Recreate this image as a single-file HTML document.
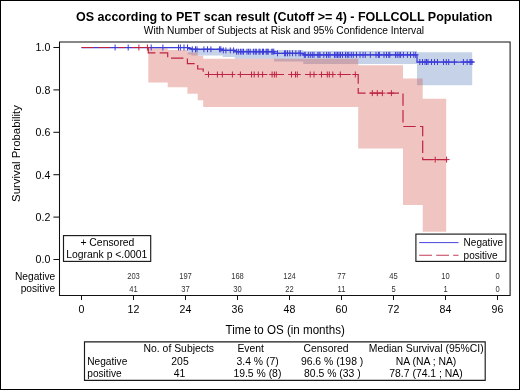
<!DOCTYPE html>
<html><head><meta charset="utf-8"><style>
html,body{margin:0;padding:0;background:#fff;}
svg{display:block;will-change:transform;}
text{font-family:"Liberation Sans", sans-serif;}
</style></head><body>
<svg width="520" height="390" viewBox="0 0 520 390">
<rect x="0" y="0" width="520" height="390" fill="#fff"/>
<rect x="0.5" y="0.5" width="519" height="389" fill="none" stroke="#000" stroke-width="1"/>
<text x="284.2" y="20.8" font-family='"Liberation Sans", sans-serif' font-size="12.5" font-weight="bold" text-anchor="middle" fill="#000">OS according to PET scan result (Cutoff &gt;= 4) - FOLLCOLL Population</text>
<text x="284.0" y="33.5" font-family='"Liberation Sans", sans-serif' font-size="10.2" text-anchor="middle" fill="#000">With Number of Subjects at Risk and 95% Confidence Interval</text>
<path d="M187.6 47.7 L191.4 47.7 L191.4 48.0 L222.7 48.0 L222.7 48.6 L234.8 48.6 L234.8 49.2 L274.0 49.2 L274.0 50.0 L303.3 50.0 L303.3 51.0 L417.0 51.0 L417.0 52.2 L472.2 52.2 L472.2 85.3 L417.0 85.3 L417.0 64.1 L303.3 64.1 L303.3 61.6 L274.0 61.6 L274.0 58.8 L234.8 58.8 L234.8 56.9 L222.7 56.9 L222.7 55.4 L191.4 55.4 L191.4 54.6 L187.6 54.6 Z" fill="#c6d2e8"/>
<path d="M148.3 48.3 L167.7 48.3 L167.7 50.1 L187.4 50.1 L187.4 52.6 L197.7 52.6 L197.7 55.7 L203.2 55.7 L203.2 58.8 L358.2 58.8 L358.2 65.3 L403.0 65.3 L403.0 78.6 L422.7 78.6 L422.7 98.8 L446.2 98.8 L446.2 231.8 L422.7 231.8 L422.7 204.9 L403.0 204.9 L403.0 148.5 L358.2 148.5 L358.2 106.9 L203.2 106.9 L203.2 100.2 L197.7 100.2 L197.7 93.7 L187.4 93.7 L187.4 87.2 L167.7 87.2 L167.7 82.5 L148.3 82.5 Z" fill="#d0473a" fill-opacity="0.32"/>
<path d="M81.5 47.5 H187.6 V48.3 H191.4 V49.3 H222.7 V50.4 H234.8 V51.7 H274.0 V53.3 H303.3 V54.9 H417.0 V62.0 H472.6" fill="none" stroke="#3c3cd8" stroke-width="1.25"/>
<path d="M81.5 47.5 H148.3 V52.8 H167.7 V58.2 H187.4 V63.6 H197.7 V69.0 H203.2 V74.5 H358.2 V93.1 H403.0 V126.5 H422.7 V159.6 H446.8" fill="none" stroke="#be2442" stroke-width="1.2" stroke-dasharray="12.4 4.3"/>
<path d="M112.1 47.5 h6.0 M115.1 44.5 v6.0 M125.2 47.5 h6.0 M128.2 44.5 v6.0 M148.2 47.5 h6.0 M151.2 44.5 v6.0 M159.9 47.5 h6.0 M162.9 44.5 v6.0 M175.5 47.5 h6.0 M178.5 44.5 v6.0 M177.4 47.5 h6.0 M180.4 44.5 v6.0 M181.0 47.5 h6.0 M184.0 44.5 v6.0 M184.5 47.5 h6.0 M187.5 44.5 v6.0 M189.3 49.3 h6.0 M192.3 46.3 v6.0 M192.5 49.3 h6.0 M195.5 46.3 v6.0 M194.0 49.3 h6.0 M197.0 46.3 v6.0 M200.9 49.3 h6.0 M203.9 46.3 v6.0 M204.5 49.3 h6.0 M207.5 46.3 v6.0 M207.9 49.3 h6.0 M210.9 46.3 v6.0 M216.6 49.3 h6.0 M219.6 46.3 v6.0 M217.8 49.3 h6.0 M220.8 46.3 v6.0 M220.3 50.4 h6.0 M223.3 47.4 v6.0 M222.9 50.4 h6.0 M225.9 47.4 v6.0 M227.3 50.4 h6.0 M230.3 47.4 v6.0 M230.6 50.4 h6.0 M233.6 47.4 v6.0 M233.6 51.7 h6.0 M236.6 48.7 v6.0 M235.3 51.7 h6.0 M238.3 48.7 v6.0 M237.4 51.7 h6.0 M240.4 48.7 v6.0 M239.0 51.7 h6.0 M242.0 48.7 v6.0 M240.5 51.7 h6.0 M243.5 48.7 v6.0 M244.0 51.7 h6.0 M247.0 48.7 v6.0 M245.6 51.7 h6.0 M248.6 48.7 v6.0 M247.2 51.7 h6.0 M250.2 48.7 v6.0 M250.4 51.7 h6.0 M253.4 48.7 v6.0 M252.2 51.7 h6.0 M255.2 48.7 v6.0 M253.3 51.7 h6.0 M256.3 48.7 v6.0 M256.0 51.7 h6.0 M259.0 48.7 v6.0 M257.0 51.7 h6.0 M260.0 48.7 v6.0 M259.5 51.7 h6.0 M262.5 48.7 v6.0 M260.5 51.7 h6.0 M263.5 48.7 v6.0 M263.2 51.7 h6.0 M266.2 48.7 v6.0 M264.2 51.7 h6.0 M267.2 48.7 v6.0 M265.2 51.7 h6.0 M268.2 48.7 v6.0 M268.8 51.7 h6.0 M271.8 48.7 v6.0 M269.8 51.7 h6.0 M272.8 48.7 v6.0 M270.8 51.7 h6.0 M273.8 48.7 v6.0 M274.5 53.3 h6.0 M277.5 50.3 v6.0 M281.6 53.3 h6.0 M284.6 50.3 v6.0 M282.6 53.3 h6.0 M285.6 50.3 v6.0 M284.5 53.3 h6.0 M287.5 50.3 v6.0 M286.8 53.3 h6.0 M289.8 50.3 v6.0 M289.5 53.3 h6.0 M292.5 50.3 v6.0 M292.8 53.3 h6.0 M295.8 50.3 v6.0 M296.0 53.3 h6.0 M299.0 50.3 v6.0 M297.4 53.3 h6.0 M300.4 50.3 v6.0 M301.3 54.9 h6.0 M304.3 51.9 v6.0 M302.3 54.9 h6.0 M305.3 51.9 v6.0 M305.3 54.9 h6.0 M308.3 51.9 v6.0 M307.3 54.9 h6.0 M310.3 51.9 v6.0 M309.3 54.9 h6.0 M312.3 51.9 v6.0 M311.0 54.9 h6.0 M314.0 51.9 v6.0 M314.8 54.9 h6.0 M317.8 51.9 v6.0 M316.0 54.9 h6.0 M319.0 51.9 v6.0 M317.0 54.9 h6.0 M320.0 51.9 v6.0 M320.8 54.9 h6.0 M323.8 51.9 v6.0 M323.5 54.9 h6.0 M326.5 51.9 v6.0 M325.3 54.9 h6.0 M328.3 51.9 v6.0 M327.0 54.9 h6.0 M330.0 51.9 v6.0 M331.5 54.9 h6.0 M334.5 51.9 v6.0 M333.0 54.9 h6.0 M336.0 51.9 v6.0 M334.5 54.9 h6.0 M337.5 51.9 v6.0 M336.0 54.9 h6.0 M339.0 51.9 v6.0 M337.5 54.9 h6.0 M340.5 51.9 v6.0 M339.5 54.9 h6.0 M342.5 51.9 v6.0 M342.5 54.9 h6.0 M345.5 51.9 v6.0 M344.3 54.9 h6.0 M347.3 51.9 v6.0 M345.8 54.9 h6.0 M348.8 51.9 v6.0 M348.3 54.9 h6.0 M351.3 51.9 v6.0 M350.3 54.9 h6.0 M353.3 51.9 v6.0 M353.5 54.9 h6.0 M356.5 51.9 v6.0 M357.0 54.9 h6.0 M360.0 51.9 v6.0 M360.0 54.9 h6.0 M363.0 51.9 v6.0 M362.3 54.9 h6.0 M365.3 51.9 v6.0 M367.3 54.9 h6.0 M370.3 51.9 v6.0 M373.0 54.9 h6.0 M376.0 51.9 v6.0 M375.4 54.9 h6.0 M378.4 51.9 v6.0 M376.4 54.9 h6.0 M379.4 51.9 v6.0 M381.0 54.9 h6.0 M384.0 51.9 v6.0 M383.5 54.9 h6.0 M386.5 51.9 v6.0 M385.8 54.9 h6.0 M388.8 51.9 v6.0 M386.8 54.9 h6.0 M389.8 51.9 v6.0 M392.5 54.9 h6.0 M395.5 51.9 v6.0 M394.2 54.9 h6.0 M397.2 51.9 v6.0 M396.1 54.9 h6.0 M399.1 51.9 v6.0 M397.6 54.9 h6.0 M400.6 51.9 v6.0 M400.4 54.9 h6.0 M403.4 51.9 v6.0 M404.4 54.9 h6.0 M407.4 51.9 v6.0 M407.5 54.9 h6.0 M410.5 51.9 v6.0 M410.8 54.9 h6.0 M413.8 51.9 v6.0 M412.7 54.9 h6.0 M415.7 51.9 v6.0 M416.8 62.0 h6.0 M419.8 59.0 v6.0 M419.5 62.0 h6.0 M422.5 59.0 v6.0 M422.0 62.0 h6.0 M425.0 59.0 v6.0 M423.5 62.0 h6.0 M426.5 59.0 v6.0 M425.0 62.0 h6.0 M428.0 59.0 v6.0 M428.5 62.0 h6.0 M431.5 59.0 v6.0 M431.5 62.0 h6.0 M434.5 59.0 v6.0 M434.5 62.0 h6.0 M437.5 59.0 v6.0 M440.5 62.0 h6.0 M443.5 59.0 v6.0 M443.3 62.0 h6.0 M446.3 59.0 v6.0 M445.7 62.0 h6.0 M448.7 59.0 v6.0 M451.4 62.0 h6.0 M454.4 59.0 v6.0 M460.4 62.0 h6.0 M463.4 59.0 v6.0 M464.1 62.0 h6.0 M467.1 59.0 v6.0 M467.0 62.0 h6.0 M470.0 59.0 v6.0 M468.0 62.0 h6.0 M471.0 59.0 v6.0 M469.0 62.0 h6.0 M472.0 59.0 v6.0" fill="none" stroke="#3c3cd8" stroke-width="1"/>
<path d="M135.9 47.5 h6.0 M138.9 44.5 v6.0 M144.4 47.5 h6.0 M147.4 44.5 v6.0 M205.5 74.5 h6.0 M208.5 71.5 v6.0 M214.4 74.5 h6.0 M217.4 71.5 v6.0 M219.3 74.5 h6.0 M222.3 71.5 v6.0 M229.4 74.5 h6.0 M232.4 71.5 v6.0 M237.4 74.5 h6.0 M240.4 71.5 v6.0 M248.5 74.5 h6.0 M251.5 71.5 v6.0 M251.2 74.5 h6.0 M254.2 71.5 v6.0 M255.3 74.5 h6.0 M258.3 71.5 v6.0 M259.6 74.5 h6.0 M262.6 71.5 v6.0 M269.1 74.5 h6.0 M272.1 71.5 v6.0 M271.4 74.5 h6.0 M274.4 71.5 v6.0 M273.3 74.5 h6.0 M276.3 71.5 v6.0 M288.5 74.5 h6.0 M291.5 71.5 v6.0 M292.5 74.5 h6.0 M295.5 71.5 v6.0 M294.3 74.5 h6.0 M297.3 71.5 v6.0 M307.2 74.5 h6.0 M310.2 71.5 v6.0 M311.0 74.5 h6.0 M314.0 71.5 v6.0 M318.5 74.5 h6.0 M321.5 71.5 v6.0 M324.3 74.5 h6.0 M327.3 71.5 v6.0 M326.3 74.5 h6.0 M329.3 71.5 v6.0 M329.8 74.5 h6.0 M332.8 71.5 v6.0 M337.3 74.5 h6.0 M340.3 71.5 v6.0 M352.3 74.5 h6.0 M355.3 71.5 v6.0 M369.3 93.1 h6.0 M372.3 90.1 v6.0 M374.3 93.1 h6.0 M377.3 90.1 v6.0 M379.4 93.1 h6.0 M382.4 90.1 v6.0 M388.4 93.1 h6.0 M391.4 90.1 v6.0 M432.2 159.6 h6.0 M435.2 156.6 v6.0 M443.6 159.6 h6.0 M446.6 156.6 v6.0" fill="none" stroke="#be2442" stroke-width="1"/>
<path d="M59.5 41.9 H510.1 V295.5 H59.5 Z" fill="none" stroke="#111" stroke-width="1.05"/>
<line x1="53.4" y1="47.50" x2="59" y2="47.50" stroke="#111" stroke-width="1.05"/>
<text x="50.3" y="51.30" font-family='"Liberation Sans", sans-serif' font-size="10.6" text-anchor="end" fill="#000">1.0</text>
<line x1="53.4" y1="89.90" x2="59" y2="89.90" stroke="#111" stroke-width="1.05"/>
<text x="50.3" y="93.70" font-family='"Liberation Sans", sans-serif' font-size="10.6" text-anchor="end" fill="#000">0.8</text>
<line x1="53.4" y1="132.30" x2="59" y2="132.30" stroke="#111" stroke-width="1.05"/>
<text x="50.3" y="136.10" font-family='"Liberation Sans", sans-serif' font-size="10.6" text-anchor="end" fill="#000">0.6</text>
<line x1="53.4" y1="174.70" x2="59" y2="174.70" stroke="#111" stroke-width="1.05"/>
<text x="50.3" y="178.50" font-family='"Liberation Sans", sans-serif' font-size="10.6" text-anchor="end" fill="#000">0.4</text>
<line x1="53.4" y1="217.10" x2="59" y2="217.10" stroke="#111" stroke-width="1.05"/>
<text x="50.3" y="220.90" font-family='"Liberation Sans", sans-serif' font-size="10.6" text-anchor="end" fill="#000">0.2</text>
<line x1="53.4" y1="259.50" x2="59" y2="259.50" stroke="#111" stroke-width="1.05"/>
<text x="50.3" y="263.30" font-family='"Liberation Sans", sans-serif' font-size="10.6" text-anchor="end" fill="#000">0.0</text>
<text transform="translate(20.2 153.5) rotate(-90)" font-family='"Liberation Sans", sans-serif' font-size="11.4" text-anchor="middle" fill="#000">Survival Probability</text>
<line x1="81.5" y1="296" x2="81.5" y2="300" stroke="#111" stroke-width="1"/>
<text x="81.5" y="313.2" font-family='"Liberation Sans", sans-serif' font-size="10.6" text-anchor="middle" fill="#000">0</text>
<line x1="133.5" y1="296" x2="133.5" y2="300" stroke="#111" stroke-width="1"/>
<text x="133.5" y="313.2" font-family='"Liberation Sans", sans-serif' font-size="10.6" text-anchor="middle" fill="#000">12</text>
<line x1="185.5" y1="296" x2="185.5" y2="300" stroke="#111" stroke-width="1"/>
<text x="185.5" y="313.2" font-family='"Liberation Sans", sans-serif' font-size="10.6" text-anchor="middle" fill="#000">24</text>
<line x1="237.5" y1="296" x2="237.5" y2="300" stroke="#111" stroke-width="1"/>
<text x="237.5" y="313.2" font-family='"Liberation Sans", sans-serif' font-size="10.6" text-anchor="middle" fill="#000">36</text>
<line x1="289.5" y1="296" x2="289.5" y2="300" stroke="#111" stroke-width="1"/>
<text x="289.5" y="313.2" font-family='"Liberation Sans", sans-serif' font-size="10.6" text-anchor="middle" fill="#000">48</text>
<line x1="341.5" y1="296" x2="341.5" y2="300" stroke="#111" stroke-width="1"/>
<text x="341.5" y="313.2" font-family='"Liberation Sans", sans-serif' font-size="10.6" text-anchor="middle" fill="#000">60</text>
<line x1="393.5" y1="296" x2="393.5" y2="300" stroke="#111" stroke-width="1"/>
<text x="393.5" y="313.2" font-family='"Liberation Sans", sans-serif' font-size="10.6" text-anchor="middle" fill="#000">72</text>
<line x1="445.5" y1="296" x2="445.5" y2="300" stroke="#111" stroke-width="1"/>
<text x="445.5" y="313.2" font-family='"Liberation Sans", sans-serif' font-size="10.6" text-anchor="middle" fill="#000">84</text>
<line x1="497.5" y1="296" x2="497.5" y2="300" stroke="#111" stroke-width="1"/>
<text x="497.5" y="313.2" font-family='"Liberation Sans", sans-serif' font-size="10.6" text-anchor="middle" fill="#000">96</text>
<text transform="translate(285.2 333.7) scale(1 1.1)" x="0" y="0" font-family='"Liberation Sans", sans-serif' font-size="11.6" text-anchor="middle" fill="#000">Time to OS (in months)</text>
<text x="55.2" y="280" font-family='"Liberation Sans", sans-serif' font-size="10.2" text-anchor="end" fill="#000">Negative</text>
<text x="55.2" y="291.5" font-family='"Liberation Sans", sans-serif' font-size="10.2" text-anchor="end" fill="#000">positive</text>
<text transform="translate(133.5 279.1) scale(1 1.2)" font-family='"Liberation Sans", sans-serif' font-size="7.6" text-anchor="middle" fill="#333">203</text>
<text transform="translate(133.5 291.5) scale(1 1.2)" font-family='"Liberation Sans", sans-serif' font-size="7.6" text-anchor="middle" fill="#333">41</text>
<text transform="translate(185.5 279.1) scale(1 1.2)" font-family='"Liberation Sans", sans-serif' font-size="7.6" text-anchor="middle" fill="#333">197</text>
<text transform="translate(185.5 291.5) scale(1 1.2)" font-family='"Liberation Sans", sans-serif' font-size="7.6" text-anchor="middle" fill="#333">37</text>
<text transform="translate(237.5 279.1) scale(1 1.2)" font-family='"Liberation Sans", sans-serif' font-size="7.6" text-anchor="middle" fill="#333">168</text>
<text transform="translate(237.5 291.5) scale(1 1.2)" font-family='"Liberation Sans", sans-serif' font-size="7.6" text-anchor="middle" fill="#333">30</text>
<text transform="translate(289.5 279.1) scale(1 1.2)" font-family='"Liberation Sans", sans-serif' font-size="7.6" text-anchor="middle" fill="#333">124</text>
<text transform="translate(289.5 291.5) scale(1 1.2)" font-family='"Liberation Sans", sans-serif' font-size="7.6" text-anchor="middle" fill="#333">22</text>
<text transform="translate(341.5 279.1) scale(1 1.2)" font-family='"Liberation Sans", sans-serif' font-size="7.6" text-anchor="middle" fill="#333">77</text>
<text transform="translate(341.5 291.5) scale(1 1.2)" font-family='"Liberation Sans", sans-serif' font-size="7.6" text-anchor="middle" fill="#333">11</text>
<text transform="translate(393.5 279.1) scale(1 1.2)" font-family='"Liberation Sans", sans-serif' font-size="7.6" text-anchor="middle" fill="#333">45</text>
<text transform="translate(393.5 291.5) scale(1 1.2)" font-family='"Liberation Sans", sans-serif' font-size="7.6" text-anchor="middle" fill="#333">5</text>
<text transform="translate(445.5 279.1) scale(1 1.2)" font-family='"Liberation Sans", sans-serif' font-size="7.6" text-anchor="middle" fill="#333">10</text>
<text transform="translate(445.5 291.5) scale(1 1.2)" font-family='"Liberation Sans", sans-serif' font-size="7.6" text-anchor="middle" fill="#333">1</text>
<text transform="translate(497.5 279.1) scale(1 1.2)" font-family='"Liberation Sans", sans-serif' font-size="7.6" text-anchor="middle" fill="#333">0</text>
<text transform="translate(497.5 291.5) scale(1 1.2)" font-family='"Liberation Sans", sans-serif' font-size="7.6" text-anchor="middle" fill="#333">0</text>
<rect x="63.5" y="235.6" width="87.2" height="25.8" fill="#fff" stroke="#1a1a1a" stroke-width="1.15"/>
<text x="107.4" y="246.2" font-family='"Liberation Sans", sans-serif' font-size="10.4" text-anchor="middle" fill="#000">+ Censored</text>
<text x="106.8" y="258.2" font-family='"Liberation Sans", sans-serif' font-size="10.4" text-anchor="middle" fill="#000">Logrank p &lt;.0001</text>
<rect x="415.9" y="234.1" width="90" height="27.3" fill="#fff" stroke="#1a1a1a" stroke-width="1.15"/>
<line x1="419.2" y1="242.6" x2="458.5" y2="242.6" stroke="#4646dc" stroke-width="1.0"/>
<line x1="419.2" y1="255.3" x2="458.5" y2="255.3" stroke="#c43c58" stroke-width="1.1" stroke-dasharray="12.8 4.2"/>
<text x="463.6" y="246.3" font-family='"Liberation Sans", sans-serif' font-size="10.0" fill="#000">Negative</text>
<text x="463.6" y="258.6" font-family='"Liberation Sans", sans-serif' font-size="10.0" fill="#000">positive</text>
<path d="M84.5 341.9 H485.2 V380.4 H84.5 Z" fill="none" stroke="#1a1a1a" stroke-width="1.15"/>
<text x="178.8" y="352.2" font-family='"Liberation Sans", sans-serif' font-size="10.4" text-anchor="middle" fill="#000">No. of Subjects</text>
<text x="250.7" y="352.2" font-family='"Liberation Sans", sans-serif' font-size="10.4" text-anchor="middle" fill="#000">Event</text>
<text x="326.0" y="352.2" font-family='"Liberation Sans", sans-serif' font-size="10.4" text-anchor="middle" fill="#000">Censored</text>
<text x="426.2" y="352.2" font-family='"Liberation Sans", sans-serif' font-size="10.4" text-anchor="middle" fill="#000">Median Survival (95%CI)</text>
<text x="87.3" y="364.7" font-family='"Liberation Sans", sans-serif' font-size="10.15" fill="#000">Negative</text>
<text x="180.0" y="364.7" font-family='"Liberation Sans", sans-serif' font-size="10.4" text-anchor="middle" fill="#000">205</text>
<text x="257.6" y="364.7" font-family='"Liberation Sans", sans-serif' font-size="10.4" text-anchor="middle" fill="#000">3.4 % (7)</text>
<text x="332.1" y="364.7" font-family='"Liberation Sans", sans-serif' font-size="10.4" text-anchor="middle" fill="#000">96.6 % (198 )</text>
<text x="426.0" y="364.7" font-family='"Liberation Sans", sans-serif' font-size="10.4" text-anchor="middle" fill="#000">NA (NA ; NA)</text>
<text x="87.3" y="377.1" font-family='"Liberation Sans", sans-serif' font-size="10.15" fill="#000">positive</text>
<text x="179.5" y="377.1" font-family='"Liberation Sans", sans-serif' font-size="10.4" text-anchor="middle" fill="#000">41</text>
<text x="257.4" y="377.1" font-family='"Liberation Sans", sans-serif' font-size="10.4" text-anchor="middle" fill="#000">19.5 % (8)</text>
<text x="332.4" y="377.1" font-family='"Liberation Sans", sans-serif' font-size="10.4" text-anchor="middle" fill="#000">80.5 % (33 )</text>
<text x="426.0" y="377.1" font-family='"Liberation Sans", sans-serif' font-size="10.4" text-anchor="middle" fill="#000">78.7 (74.1 ; NA)</text>
</svg>
</body></html>
